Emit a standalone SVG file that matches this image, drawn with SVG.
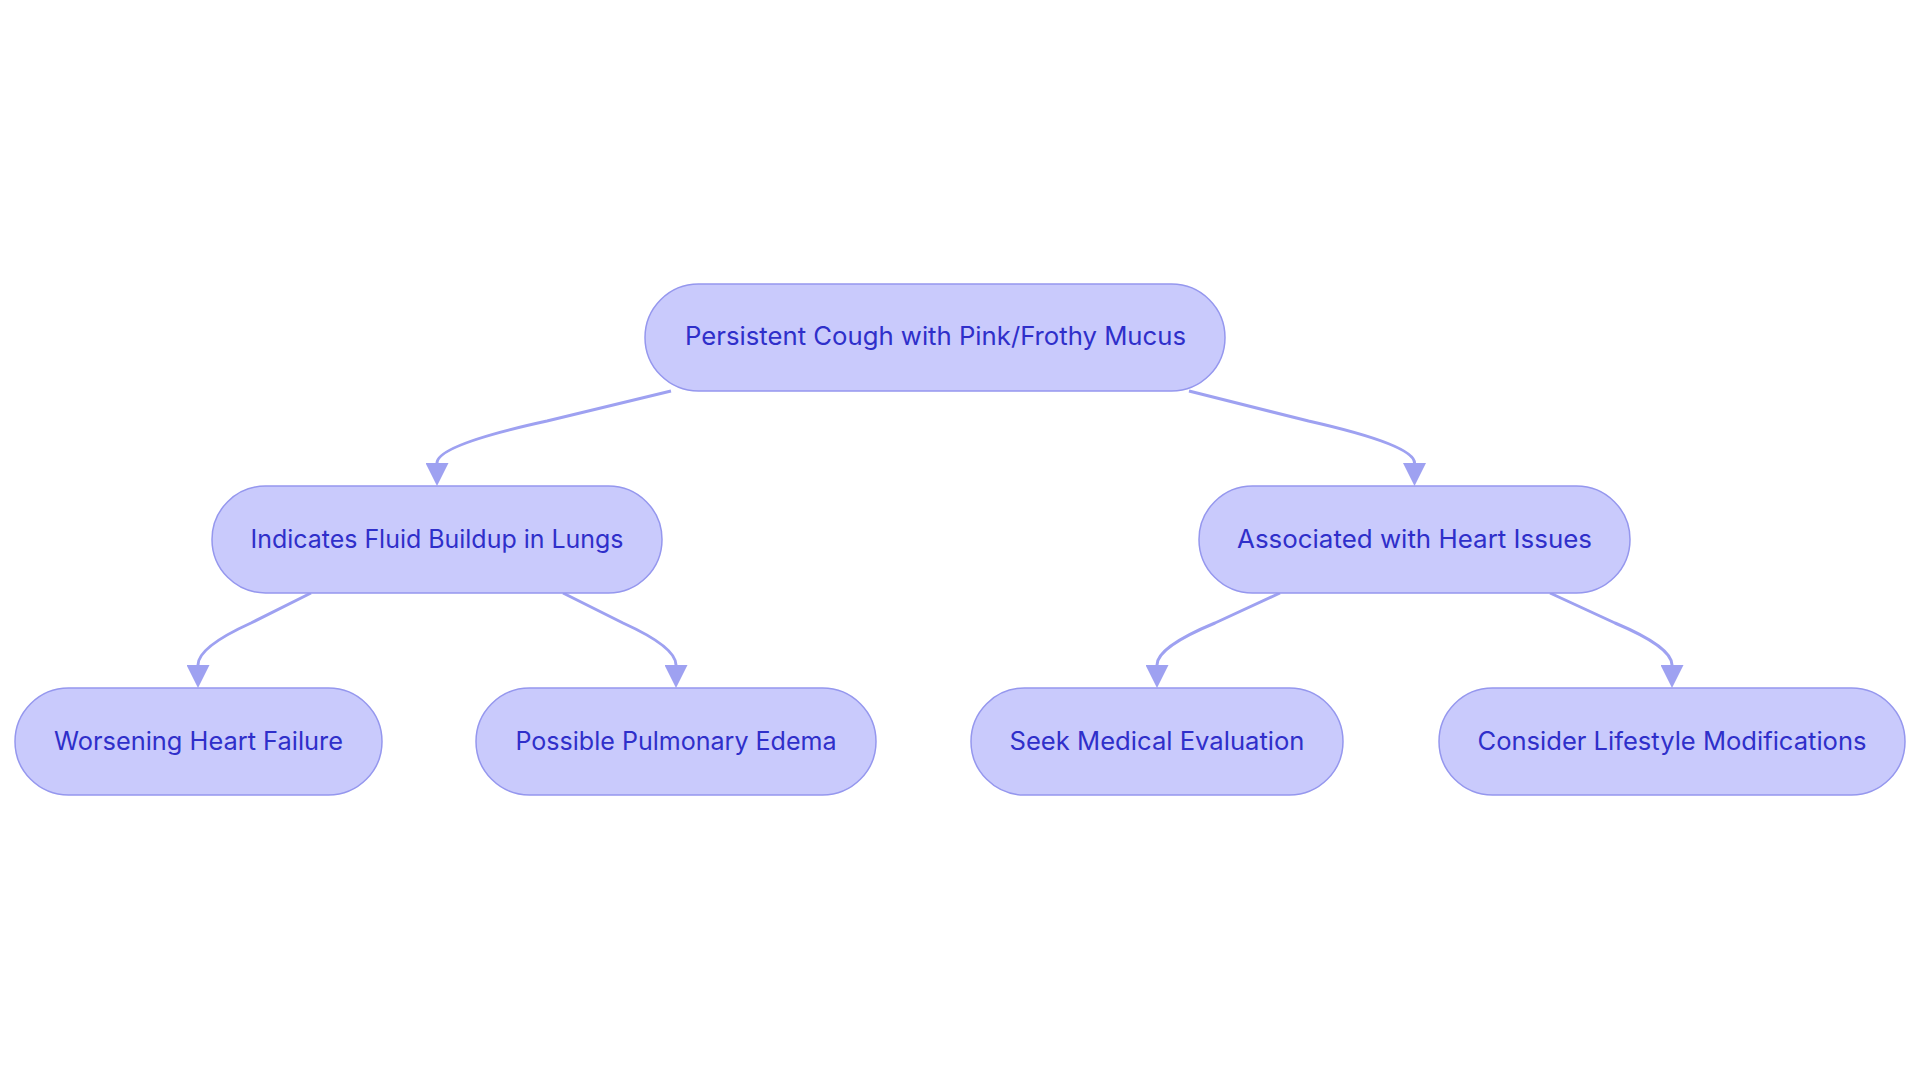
<svg xmlns="http://www.w3.org/2000/svg" width="1920" height="1083" viewBox="0 0 1920 1083">
<style>
.node rect{fill:#c9cafc;stroke:#9597ee;stroke-width:1.5}
.node text{font-family:Inter,"Noto Sans","Liberation Sans",sans-serif;font-size:25px;fill:#2f2fca;text-anchor:middle}
.edge{fill:none;stroke:#9ea1f1;stroke-width:3}
</style>
<defs>
<marker id="arr" viewBox="0 0 10 10" refX="0" refY="5" markerWidth="23" markerHeight="23" markerUnits="userSpaceOnUse" orient="auto">
<path d="M0,0 L10,5 L0,10 z" fill="#9ea1f1"/>
</marker>
</defs>
<rect width="1920" height="1083" fill="#ffffff"/>
<g id="connectors">
<path class="edge" marker-end="url(#arr)" d="M671,391 L547,421 Q437,445 437,463"/>
<path class="edge" marker-end="url(#arr)" d="M1189,391 L1308.5,421 Q1414.5,445 1414.5,463"/>
<path class="edge" marker-end="url(#arr)" d="M311,593 L251,623 Q198,647 198,665"/>
<path class="edge" marker-end="url(#arr)" d="M563,593 L623,623 Q676,647 676,665"/>
<path class="edge" marker-end="url(#arr)" d="M1280,593 L1215,623 Q1157,647 1157,665"/>
<path class="edge" marker-end="url(#arr)" d="M1550,593 L1615,623 Q1672,647 1672,665"/>
</g>
<g id="root" class="node">
<rect x="645" y="284" width="580" height="107" rx="53.5" ry="53.5"/>
<text x="935.5" y="345" textLength="501" lengthAdjust="spacingAndGlyphs">Persistent Cough with Pink/Frothy Mucus</text>
</g>
<g id="fluid" class="node">
<rect x="212" y="486" width="450" height="107" rx="53.5" ry="53.5"/>
<text x="437" y="547.5" textLength="373" lengthAdjust="spacingAndGlyphs">Indicates Fluid Buildup in Lungs</text>
</g>
<g id="heart" class="node">
<rect x="1199" y="486" width="431" height="107" rx="53.5" ry="53.5"/>
<text x="1414.5" y="547.5" textLength="355" lengthAdjust="spacingAndGlyphs">Associated with Heart Issues</text>
</g>
<g id="worsening" class="node">
<rect x="15" y="688" width="367" height="107" rx="53.5" ry="53.5"/>
<text x="198.5" y="749.5" textLength="289" lengthAdjust="spacingAndGlyphs">Worsening Heart Failure</text>
</g>
<g id="edema" class="node">
<rect x="476" y="688" width="400" height="107" rx="53.5" ry="53.5"/>
<text x="676" y="749.5" textLength="321" lengthAdjust="spacingAndGlyphs">Possible Pulmonary Edema</text>
</g>
<g id="seek" class="node">
<rect x="971" y="688" width="372" height="107" rx="53.5" ry="53.5"/>
<text x="1157" y="749.5" textLength="295" lengthAdjust="spacingAndGlyphs">Seek Medical Evaluation</text>
</g>
<g id="lifestyle" class="node">
<rect x="1439" y="688" width="466" height="107" rx="53.5" ry="53.5"/>
<text x="1672" y="749.5" textLength="389" lengthAdjust="spacingAndGlyphs">Consider Lifestyle Modifications</text>
</g>
</svg>
